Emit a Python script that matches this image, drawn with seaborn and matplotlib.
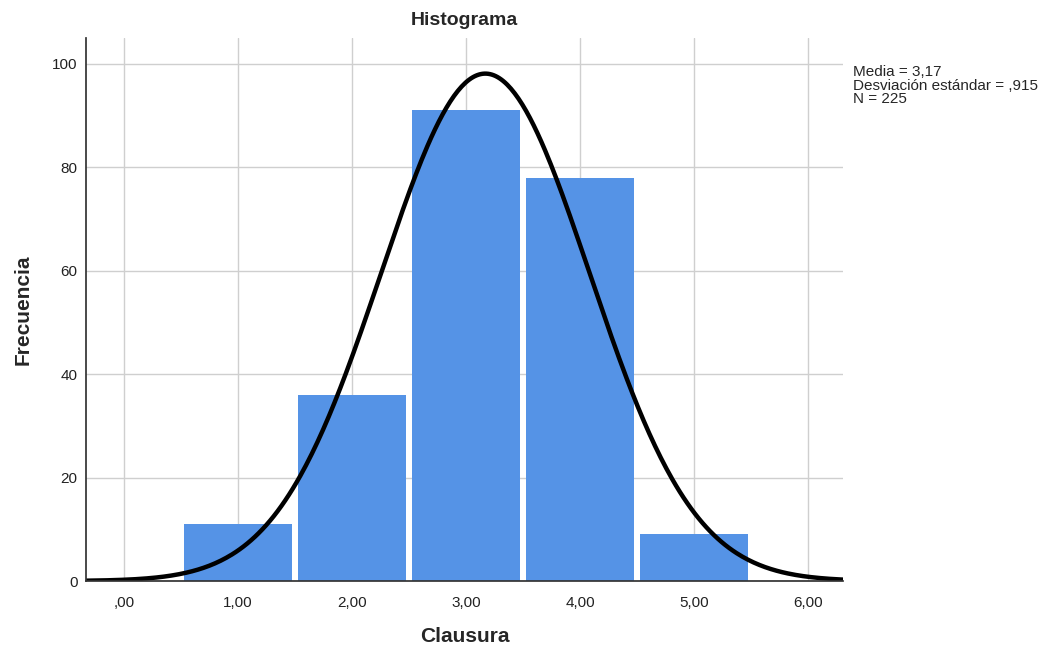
import numpy as np
import pandas as pd
import seaborn as sns
from matplotlib import pyplot as plt

# Data
categories = [1, 2, 3, 4, 5]
counts = [11, 36, 91, 78, 9]
media = 3.17
desviacion = 0.915
n_total = 225
x_ticks = [0, 1, 2, 3, 4, 5, 6]
x_tick_labels = [",00", "1,00", "2,00", "3,00", "4,00", "5,00", "6,00"]
y_ticks = [0, 20, 40, 60, 80, 100]

sns.set_theme(style="whitegrid")
plt.rcParams["font.family"] = ["Liberation Sans", "DejaVu Sans"]

df = pd.DataFrame({"Clausura": categories, "Frecuencia": counts})

fig = plt.figure(figsize=(10.55, 6.45), dpi=100)
ax = fig.add_axes([0.0815, 0.0992, 0.7175, 0.842])

sns.histplot(
    data=df,
    x="Clausura",
    weights="Frecuencia",
    discrete=True,
    shrink=0.95,
    color="#5593e6",
    alpha=1,
    edgecolor="none",
    ax=ax
)

# Normal curve
xs = np.linspace(-0.333, 6.307, 400)
pdf = n_total * np.exp(-0.5 * ((xs - media) / desviacion) ** 2) / (desviacion * np.sqrt(2 * np.pi))
sns.lineplot(x=xs, y=pdf, color="black", linewidth=3.2, ax=ax)

ax.set_xlim(-0.333, 6.307)
ax.set_ylim(0, 105)
ax.set_xticks(x_ticks)
ax.set_xticklabels(x_tick_labels, fontsize=11)
ax.set_yticks(y_ticks)
ax.set_yticklabels([str(v) for v in y_ticks], fontsize=11)

ax.grid(True, color="#cfcfcf", linewidth=1)
ax.set_axisbelow(True)
for side in ["top", "right"]:
    ax.spines[side].set_visible(False)
ax.spines["left"].set_color("#333333")
ax.spines["bottom"].set_color("#333333")

ax.tick_params(axis="x", length=0, pad=11, colors="#222222")
ax.tick_params(axis="y", length=0, pad=6, colors="#222222")

ax.set_title("Histograma", fontsize=14, fontweight="bold", pad=9)
ax.set_xlabel("Clausura", fontsize=15, fontweight="bold", labelpad=12)
ax.set_ylabel("Frecuencia", fontsize=15, fontweight="bold", labelpad=14)

fig.text(
    0.809, 0.899,
    f"Media = 3,17\nDesviación estándar = ,915\nN = {n_total}",
    fontsize=11,
    va="top",
    ha="left",
    linespacing=0.95
)

plt.savefig("out.png", dpi=100)
plt.close()
